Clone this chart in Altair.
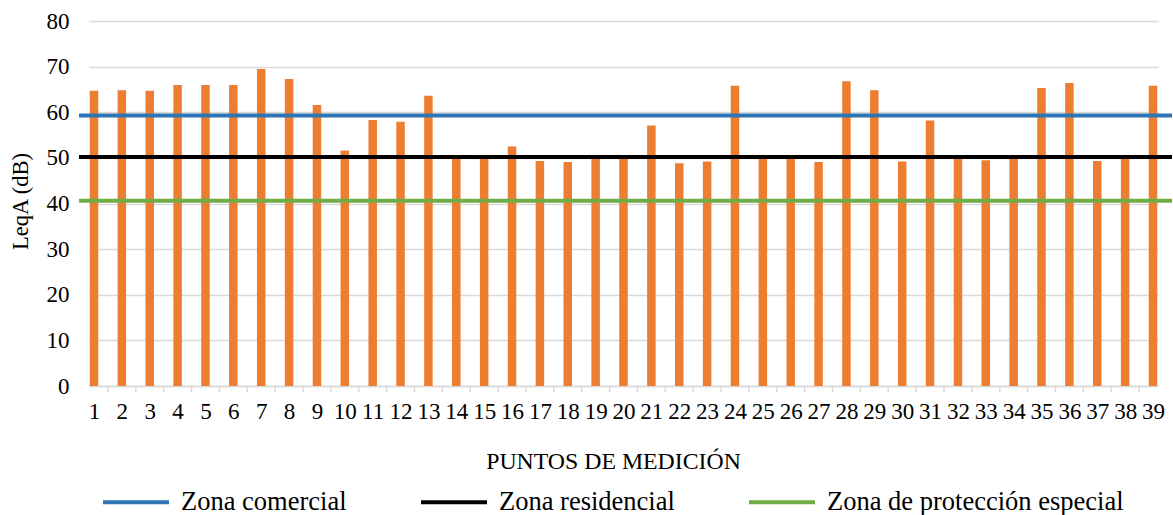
import altair as alt
import pandas as pd

# Measured LeqA per measurement point
puntos = list(range(1, 40))
leqa = [64.7, 64.8, 64.7, 66.0, 66.0, 66.0, 69.5, 67.3, 61.6, 51.6,
        58.3, 57.9, 63.6, 50.0, 50.0, 52.5, 49.3, 49.1, 50.0, 50.0,
        57.1, 48.8, 49.2, 65.8, 50.0, 50.0, 49.1, 66.8, 64.8, 49.2,
        58.2, 50.0, 49.5, 50.0, 65.3, 66.4, 49.3, 50.0, 65.8]

# Reference limits per zone
zonas = ["Zona comercial", "Zona residencial", "Zona de protección especial"]
limites = [59.3, 50.2, 40.6]
colores = ["#2E75B6", "#000000", "#70AD47"]

y_ticks = [0, 10, 20, 30, 40, 50, 60, 70, 80]

W, H = 1069, 365
FONT = "Liberation Serif"
GRID = "#D9D9D9"

df = pd.DataFrame({"punto": puntos, "leqa": leqa})
zdf = pd.DataFrame({"zona": zonas, "limite": limites})
# small tick marks sit between neighbouring points
tdf = pd.DataFrame({"sep": [p + 0.5 for p in puntos[:-1]]})

xscale = alt.Scale(domain=[puntos[0], puntos[-1]], nice=False, zero=False)
yscale = alt.Scale(domain=[0, 80], nice=False)

x_axis = alt.Axis(
    values=puntos,
    format="d",
    title="PUNTOS DE MEDICIÓN",
    titleFontSize=23.8,
    titleFontWeight="normal",
    titleFont=FONT,
    titleColor="#000000",
    titleBaseline="top",
    titleAlign="center",
    titleX=524,
    titleY=63,
    labelFont=FONT,
    labelFontSize=23,
    labelColor="#000000",
    labelPadding=14,
    labelOverlap=False,
    labelFlush=False,
    labelBound=False,
    ticks=False,
    grid=False,
    domainColor=GRID,
    domainWidth=1.5,
)

y_axis = alt.Axis(
    values=y_ticks,
    title="LeqA (dB)",
    titleFontSize=22.5,
    titleFontWeight="normal",
    titleFont=FONT,
    titleColor="#000000",
    titleAngle=270,
    titleBaseline="bottom",
    titleAlign="center",
    titleX=-57,
    titleY=180,
    labelFont=FONT,
    labelFontSize=23,
    labelColor="#000000",
    labelPadding=20,
    ticks=False,
    domain=False,
    grid=True,
    gridColor=GRID,
    gridWidth=1.5,
)

bars = alt.Chart(df).mark_bar(color="#ED7D31", size=8.5, clip=True).encode(
    x=alt.X("punto:Q", scale=xscale, axis=x_axis),
    y=alt.Y("leqa:Q", scale=yscale, axis=y_axis),
)

sep_ticks = alt.Chart(tdf).mark_rule(color=GRID, strokeWidth=1.5).encode(
    x=alt.X("sep:Q", scale=xscale, axis=x_axis),
    y=alt.value(H),
    y2=alt.value(H + 6),
)

rules = alt.Chart(zdf).mark_rule(strokeWidth=4, clip=False).encode(
    y=alt.Y("limite:Q", scale=yscale, axis=y_axis),
    x=alt.value(-10),
    x2=alt.value(W + 14),
    color=alt.Color(
        "zona:N",
        scale=alt.Scale(domain=zonas, range=colores),
        legend=alt.Legend(
            title=None,
            orient="none",
            legendX=12,
            legendY=446,
            direction="horizontal",
            symbolType="stroke",
            symbolSize=4356,
            symbolStrokeWidth=4,
            labelFont=FONT,
            labelFontSize=26.5,
            labelColor="#000000",
            labelOffset=10,
            labelLimit=450,
            columnPadding=66,
            padding=0,
        ),
    ),
)

chart = (
    alt.layer(bars, sep_ticks, rules)
    .properties(
        width=W,
        height=H,
        autosize=alt.AutoSizeParams(type="none"),
        padding={"left": 89, "top": 21, "right": 15, "bottom": 129},
    )
    .configure(font=FONT)
    .configure_view(stroke=None)
)

chart.save("out.html", embed_options={"renderer": "svg", "actions": False})
